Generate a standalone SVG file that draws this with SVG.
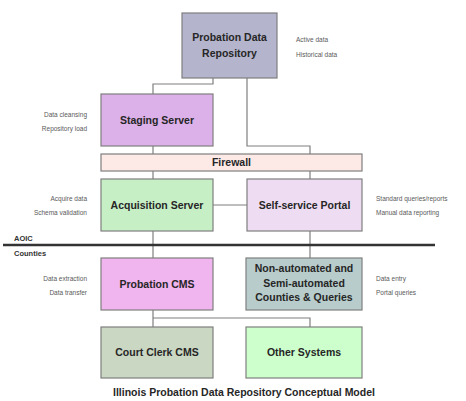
<svg xmlns="http://www.w3.org/2000/svg" width="466" height="401" viewBox="0 0 466 401">
<style>
.box{stroke:#7f7f7f;stroke-width:1.2}
.lbl{font-family:"Liberation Sans",Arial,sans-serif;font-weight:bold;font-size:10.5px;fill:#262626;text-anchor:middle}
.note{font-family:"Liberation Sans",Arial,sans-serif;font-size:6.5px;fill:#5a5a5a}
.r{text-anchor:end}
.con{fill:none;stroke:#7f7f7f;stroke-width:1.2}
.sec{font-family:"Liberation Sans",Arial,sans-serif;font-weight:bold;font-size:7.5px;fill:#333}
</style>
<rect width="466" height="401" fill="#fff"/>
<g id="connectors">
<path class="con" d="M213 78V84H153V94"/>
<path class="con" d="M247 78V146H310V154"/>
<path class="con" d="M153 146V154"/>
<path class="con" d="M153 171V179"/>
<path class="con" d="M310 171V179"/>
<path class="con" d="M213 205H247"/>
<path class="con" d="M153 231V258"/>
<path class="con" d="M310 231V258"/>
<path class="con" d="M153 310V327"/>
<path class="con" d="M153 318H310V327"/>
</g>
<g id="divider">
<line x1="3" y1="245" x2="435" y2="245" stroke="#333" stroke-width="2.6"/>
<text class="sec" x="14" y="241">AOIC</text>
<text class="sec" x="14" y="256">Counties</text>
</g>
<g id="pdr">
<rect class="box" x="182" y="13" width="95" height="65" fill="#b4b4cc"/>
<text class="lbl" x="229.5" y="41">Probation Data</text>
<text class="lbl" x="229.5" y="57">Repository</text>
<text class="note" x="296" y="42">Active data</text>
<text class="note" x="296" y="57">Historical data</text>
</g>
<g id="staging">
<rect class="box" x="101" y="94" width="112" height="52" fill="#dcb0e8"/>
<text class="lbl" x="157" y="124">Staging Server</text>
<text class="note r" x="87" y="117">Data cleansing</text>
<text class="note r" x="87" y="131">Repository load</text>
</g>
<g id="firewall">
<rect class="box" x="101" y="154" width="261" height="17" fill="#fde9e6"/>
<text class="lbl" x="231.5" y="166">Firewall</text>
</g>
<g id="acquisition">
<rect class="box" x="101" y="179" width="112" height="52" fill="#c6efc6"/>
<text class="lbl" x="157" y="209">Acquisition Server</text>
<text class="note r" x="87" y="201">Acquire data</text>
<text class="note r" x="87" y="215">Schema validation</text>
</g>
<g id="portal">
<rect class="box" x="247" y="179" width="115" height="52" fill="#eddcf2"/>
<text class="lbl" x="304.5" y="209">Self-service Portal</text>
<text class="note" x="376" y="201">Standard queries/reports</text>
<text class="note" x="376" y="215">Manual data reporting</text>
</g>
<g id="probation-cms">
<rect class="box" x="101" y="258" width="112" height="52" fill="#f0b4ee"/>
<text class="lbl" x="157" y="288">Probation CMS</text>
<text class="note r" x="87" y="281">Data extraction</text>
<text class="note r" x="87" y="295">Data transfer</text>
</g>
<g id="non-automated">
<rect class="box" x="246" y="258" width="116" height="52" fill="#b8cccc"/>
<text class="lbl" x="304" y="272">Non-automated and</text>
<text class="lbl" x="304" y="287">Semi-automated</text>
<text class="lbl" x="304" y="301">Counties &amp; Queries</text>
<text class="note" x="376" y="281">Data entry</text>
<text class="note" x="376" y="295">Portal queries</text>
</g>
<g id="court-clerk">
<rect class="box" x="101" y="327" width="112" height="51" fill="#c9d7c3"/>
<text class="lbl" x="157" y="356">Court Clerk CMS</text>
</g>
<g id="other">
<rect class="box" x="246" y="327" width="116" height="51" fill="#ccffcc"/>
<text class="lbl" x="304" y="356">Other Systems</text>
</g>
<text class="lbl" x="244" y="396">Illinois Probation Data Repository Conceptual Model</text>
</svg>
